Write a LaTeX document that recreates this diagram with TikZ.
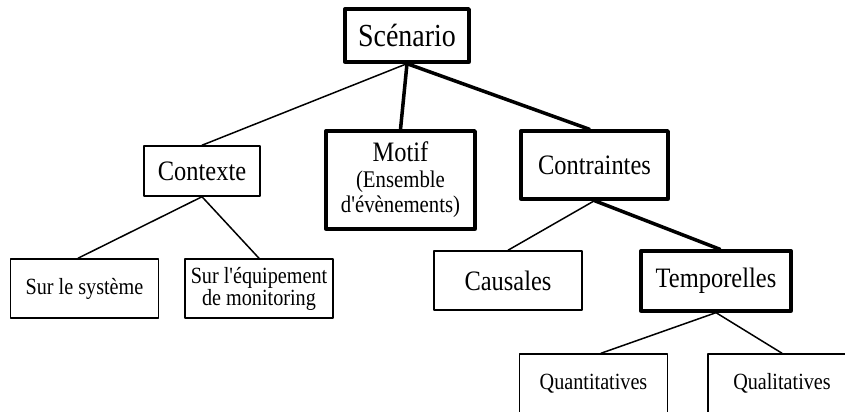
\documentclass[tikz,border=0pt]{standalone}
\usepackage{fontspec}
\setmainfont{Liberation Serif}[Ligatures=TeXOff,FakeStretch=0.87]
\newcommand{\subtxt}[1]{{\fontsize{13.6}{13}\selectfont #1}}
\begin{document}
\begin{tikzpicture}[line cap=round,line join=round,
    box/.style={draw,line width=0.85pt,inner sep=0pt,align=center,font=\fontsize{16}{14.5}\selectfont},
    boldbox/.style={box,line width=1.9pt},
    leaf/.style={box,minimum width=2.96cm,minimum height=1.18cm,font=\fontsize{13.2}{12.5}\selectfont},
    link/.style={line width=0.85pt},
    boldlink/.style={line width=2pt}]
  \useasboundingbox (0,0) rectangle (16.9,8.24);
  \clip (0,0) rectangle (16.9,8.24);
  \node[boldbox,minimum width=2.48cm,minimum height=1.06cm,font=\fontsize{18.3}{17}\selectfont] (scen) at (8.14,7.53) {Scénario};
  \node[box,minimum width=2.32cm,minimum height=1cm] (ctx) at (4.04,4.82) {Contexte};
  \node[boldbox,minimum width=2.98cm,minimum height=1.96cm] (motif) at (8.01,4.64) {Motif\\\subtxt{(Ensemble}\\\subtxt{d'évènements)}};
  \node[boldbox,minimum width=2.94cm,minimum height=1.36cm] (contr) at (11.89,4.94) {Contraintes};
  \node[leaf] (sys) at (1.69,2.47) {Sur le système};
  \node[leaf] (equip) at (5.18,2.47) {Sur l'équipement\\de monitoring};
  \node[box,minimum width=2.96cm,minimum height=1.18cm] (caus) at (10.16,2.63) {Causales};
  \node[boldbox,minimum width=3cm,minimum height=1.2cm] (temp) at (14.32,2.62) {Temporelles};
  \node[leaf] (quant) at (11.87,0.57) {Quantitatives};
  \node[leaf] (qual) at (15.64,0.57) {Qualitatives};
  % links
  \draw[link] (scen.south) -- (ctx.north);
  \draw[boldlink] (scen.south) -- (motif.north);
  \draw[boldlink] (scen.south) -- ([xshift=-0.1cm]contr.north);
  \draw[link] (ctx.south) -- ([xshift=-0.13cm]sys.north);
  \draw[link] (ctx.south) -- (equip.north);
  \draw[link] (contr.south) -- (caus.north);
  \draw[boldlink] (contr.south) -- ([xshift=0.08cm]temp.north);
  \draw[link] (temp.south) -- ([xshift=0.15cm]quant.north);
  \draw[link] (temp.south) -- (qual.north);
\end{tikzpicture}
\end{document}
